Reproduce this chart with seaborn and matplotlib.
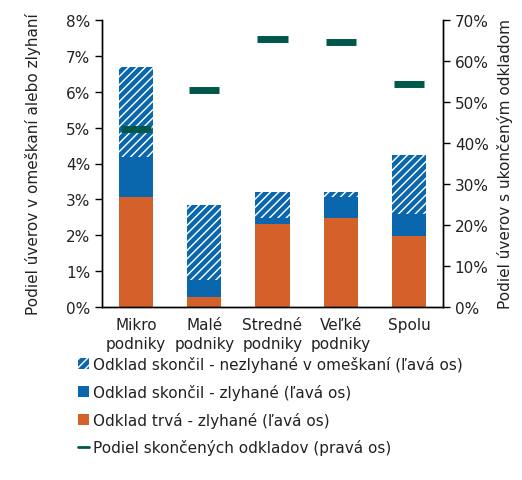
import numpy as np
import pandas as pd
import seaborn as sns
import matplotlib.pyplot as plt
from matplotlib.patches import Patch
from matplotlib.lines import Line2D
from matplotlib.ticker import PercentFormatter

categories = ['Mikro\npodniky', 'Malé\npodniky', 'Stredné\npodniky', 'Veľké\npodniky', 'Spolu']
trva_zlyhane = [3.08, 0.29, 2.32, 2.48, 1.97]
skoncil_zlyhane = [1.10, 0.46, 0.16, 0.59, 0.62]
skoncil_nezlyhane = [2.52, 2.09, 0.73, 0.13, 1.64]
podiel_skoncenych = [43.4, 52.9, 65.3, 64.6, 54.4]

labels = ['Odklad skončil - nezlyhané v omeškaní (ľavá os)',
          'Odklad skončil - zlyhané (ľavá os)',
          'Odklad trvá - zlyhané (ľavá os)',
          'Podiel skončených odkladov (pravá os)']

orange = '#d4602a'
blue = '#0a66ad'
green = '#00584a'
txt = '#222222'

sns.set_style('white')
plt.rcParams['font.family'] = ['DejaVu Sans']
plt.rcParams['hatch.linewidth'] = 3.2
plt.rcParams['hatch.color'] = blue
fs = 11

df = pd.DataFrame({'cat': categories,
                   'orange': trva_zlyhane,
                   'blue': skoncil_zlyhane,
                   'hatch': skoncil_nezlyhane,
                   'share': podiel_skoncenych})
df['top_blue'] = df['orange'] + df['blue']
df['total'] = df['top_blue'] + df['hatch']

fig = plt.figure(figsize=(5.22, 4.81), dpi=100)
ax = fig.add_axes([102 / 522, 1 - 308 / 481, 341 / 522, 287 / 481])

# stacked look: draw cumulative totals, tallest first
sns.barplot(data=df, x='cat', y='total', color='white', width=0.5,
            hatch='////', edgecolor=blue, linewidth=0, saturation=1, ax=ax)
sns.barplot(data=df, x='cat', y='top_blue', color=blue, width=0.5,
            linewidth=0, saturation=1, ax=ax)
sns.barplot(data=df, x='cat', y='orange', color=orange, width=0.5,
            linewidth=0, saturation=1, ax=ax)

ax.set_xlim(-0.5, 4.5)
ax.set_ylim(0, 8)
ax.set_yticks(np.arange(0, 9, 1))
ax.yaxis.set_major_formatter(PercentFormatter(decimals=0))
ax.set_xticks(np.arange(-0.5, 5, 1))
ax.set_xticklabels([])
ax.set_xticks(np.arange(5), minor=True)
ax.set_xticklabels(categories, minor=True, fontsize=fs, color=txt, linespacing=1.35)
ax.tick_params(axis='x', which='major', length=5, width=1, direction='out', color='black')
ax.tick_params(axis='x', which='minor', length=0, pad=7)
ax.tick_params(axis='y', length=5, width=1, direction='out', labelsize=fs, colors='black')
for lab in ax.get_yticklabels():
    lab.set_color(txt)
ax.set_xlabel('')
ax.set_ylabel('Podiel úverov v omeškaní alebo zlyhaní', fontsize=fs, color=txt, labelpad=18)

ax2 = ax.twinx()
x = np.arange(len(categories))
ax2.hlines(df['share'], x - 0.22, x + 0.22, color=green, linewidth=5)
ax2.set_ylim(0, 70)
ax2.set_yticks(np.arange(0, 71, 10))
ax2.yaxis.set_major_formatter(PercentFormatter(decimals=0))
ax2.tick_params(axis='y', length=5, width=1, direction='out', labelsize=fs, colors='black')
for lab in ax2.get_yticklabels():
    lab.set_color(txt)
ax2.set_ylabel('Podiel úverov s ukončeným odkladom', fontsize=fs, color=txt, labelpad=6)

for a in (ax, ax2):
    a.spines['top'].set_visible(False)
    for s in ('left', 'right', 'bottom'):
        a.spines[s].set_color('black')
        a.spines[s].set_linewidth(1)

handles = [Patch(facecolor='white', edgecolor=blue, hatch='////', linewidth=0),
           Patch(facecolor=blue, linewidth=0),
           Patch(facecolor=orange, linewidth=0),
           Line2D([0], [0], color=green, linewidth=2)]
fig.legend(handles, labels, loc='upper left', bbox_to_anchor=(64 / 522, 1 - 343 / 481),
           frameon=False, fontsize=fs, handlelength=0.75, handleheight=0.75,
           handletextpad=0.25, labelspacing=0.78, labelcolor=txt)

fig.savefig('out.png', dpi=100)
